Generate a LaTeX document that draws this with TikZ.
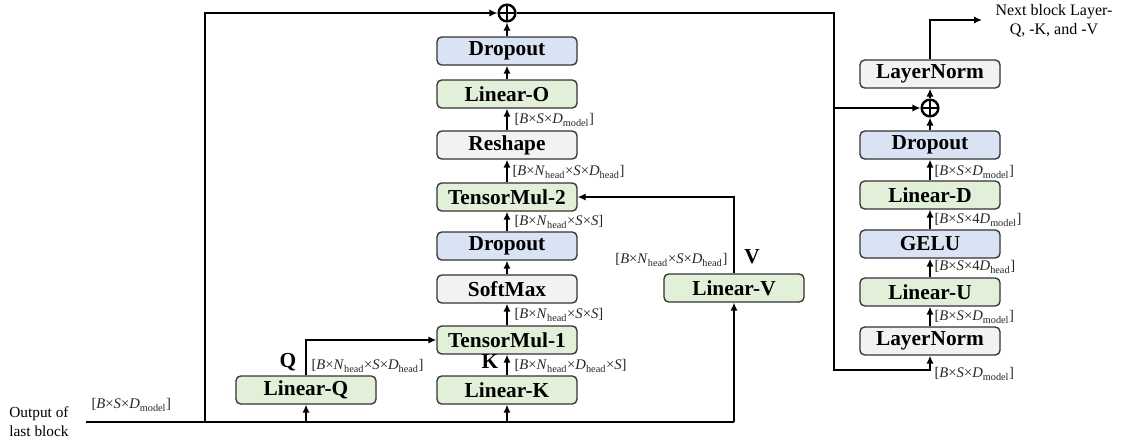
\documentclass[tikz,border=0pt]{standalone}
\usepackage{fontspec}
\setmainfont{Liberation Serif}
\usetikzlibrary{arrows.meta}
\definecolor{gfill}{HTML}{E2F0D9}
\definecolor{bfill}{HTML}{DAE3F3}
\definecolor{wfill}{HTML}{F2F2F2}
\definecolor{bord}{HTML}{333333}
\newcommand{\ti}[1]{\textit{#1}}
\newcommand{\lsub}[1]{\textsubscript{#1}}
\newcommand{\Hd}{\lsub{head}}
\newcommand{\Md}{\lsub{model}}
\tikzset{
  box/.style={draw=bord, line width=1pt, rounded corners=3.5pt, minimum width=105pt, minimum height=21pt, inner sep=0pt, font=\fontsize{16}{18}\selectfont\bfseries},
  gbox/.style={box, fill=gfill},
  bbox/.style={box, fill=bfill},
  wbox/.style={box, fill=wfill},
  ln/.style={line width=2.1pt},
  arr/.style={line width=2.1pt, -{Latex[length=6pt,width=5.5pt]}},
  lbl/.style={font=\fontsize{11}{13}\selectfont, inner sep=1pt, text=black!85},
  big/.style={font=\fontsize{16}{18}\selectfont\bfseries, inner sep=0pt},
  oplus/.style={circle, draw, line width=1.8pt, minimum size=12.5pt, inner sep=0pt,
    path picture={\draw[line width=1.8pt] (path picture bounding box.north) -- (path picture bounding box.south) (path picture bounding box.west) -- (path picture bounding box.east);}}
}
\begin{document}
\begin{tikzpicture}[x=0.75pt, y=-0.75pt]
\useasboundingbox (0,0) rectangle (1122,444);
% attention column
\node[oplus] (p1) at (507,13) {};
\node[bbox] (do1) at (507,51) {Dropout};
\node[gbox] (lo) at (507,94) {Linear-O};
\node[wbox] (rs) at (507,145) {Reshape};
\node[gbox] (tm2) at (507,197) {TensorMul-2};
\node[bbox] (do2) at (507,246) {Dropout};
\node[wbox] (sm) at (507,289) {SoftMax};
\node[gbox] (tm1) at (507,340) {TensorMul-1};
\node[gbox] (lk) at (507,390) {Linear-K};
\node[gbox] (lq) at (306,390) {Linear-Q};
\node[gbox] (lv) at (734,288) {Linear-V};
% right column
\node[wbox] (ln2) at (930,74) {LayerNorm};
\node[oplus] (p2) at (930,108) {};
\node[bbox] (do3) at (930,145) {Dropout};
\node[gbox] (ld) at (930,195) {Linear-D};
\node[bbox] (ge) at (930,244) {GELU};
\node[gbox] (lu) at (930,292) {Linear-U};
\node[wbox] (ln1) at (930,341) {LayerNorm};
% coordinates
\coordinate (in) at (86,422);
\coordinate (sk) at (205,422);
\coordinate (rt) at (834,13);
\coordinate (rb) at (834,370);
\coordinate (rm) at (834,108);
\coordinate (nx) at (930,20);
\coordinate (nxe) at (982,20);
% main input line
\draw[ln] (in) -- (lv.south |- in);
\draw[arr] (lq.south |- in) -- (lq.south);
\draw[arr] (lk.south |- in) -- (lk.south);
\draw[arr] (lv.south |- in) -- (lv.south);
\draw[arr] (sk) -- (sk |- p1) -- (p1.west);
% attention arrows
\draw[arr] (lk) -- (tm1);
\draw[arr] (lq.north) -- (lq.north |- tm1) -- (tm1.west);
\draw[arr] (tm1) -- (sm);
\draw[arr] (sm) -- (do2);
\draw[arr] (do2) -- (tm2);
\draw[arr] (lv.north) -- (lv.north |- tm2) -- (tm2.east);
\draw[arr] (tm2) -- (rs);
\draw[arr] (rs) -- (lo);
\draw[arr] (lo) -- (do1);
\draw[arr] (do1) -- (p1);
% residual to MLP
\draw[arr] (p1.east) -- (rt) -- (rb) -- (ln1.south |- rb) -- (ln1.south);
\draw[arr] (rm) -- (p2.west);
\draw[arr] (ln1) -- (lu);
\draw[arr] (lu) -- (ge);
\draw[arr] (ge) -- (ld);
\draw[arr] (ld) -- (do3);
\draw[arr] (do3) -- (p2);
\draw[arr] (p2) -- (ln2);
\draw[arr] (ln2.north) -- (nx) -- (nxe);
% texts
\node[align=center, font=\fontsize{12}{14}\selectfont, inner sep=0pt] (nt) at (1054,21) {Next block Layer-\\Q, -K, and -V};
\node[align=center, font=\fontsize{11.5}{14}\selectfont, inner sep=0pt] (ot) at (39,422) {Output of\\last block};
\node[lbl, anchor=west] (l0) at (90,405) {[\ti{B}×\ti{S}×\ti{D}\Md]};
\node[lbl, anchor=west] (l1) at (513,120) {[\ti{B}×\ti{S}×\ti{D}\Md]};
\node[lbl, anchor=west] (l2) at (511,172) {[\ti{B}×\ti{N}\Hd×\ti{S}×\ti{D}\Hd]};
\node[lbl, anchor=west] (l3) at (513,222) {[\ti{B}×\ti{N}\Hd×\ti{S}×\ti{S}]};
\node[lbl, anchor=west] (l4) at (513,315) {[\ti{B}×\ti{N}\Hd×\ti{S}×\ti{S}]};
\node[lbl, anchor=west] (l5) at (513,366) {[\ti{B}×\ti{N}\Hd×\ti{D}\Hd×\ti{S}]};
\node[lbl, anchor=west] (l6) at (310,366) {[\ti{B}×\ti{N}\Hd×\ti{S}×\ti{D}\Hd]};
\node[lbl, anchor=east] (l7) at (729,260) {[\ti{B}×\ti{N}\Hd×\ti{S}×\ti{D}\Hd]};
\node[big] (q) at (288,362) {Q};
\node[big] (k) at (490,362) {K};
\node[big] (v) at (752,257) {V};
\node[lbl, anchor=west] (r1) at (933,172) {[\ti{B}×\ti{S}×\ti{D}\Md]};
\node[lbl, anchor=west] (r2) at (933,220) {[\ti{B}×\ti{S}×4\ti{D}\Md]};
\node[lbl, anchor=west] (r3) at (933,267) {[\ti{B}×\ti{S}×4\ti{D}\Hd]};
\node[lbl, anchor=west] (r4) at (933,317) {[\ti{B}×\ti{S}×\ti{D}\Md]};
\node[lbl, anchor=west] (r5) at (933,374) {[\ti{B}×\ti{S}×\ti{D}\Md]};
\end{tikzpicture}
\end{document}
